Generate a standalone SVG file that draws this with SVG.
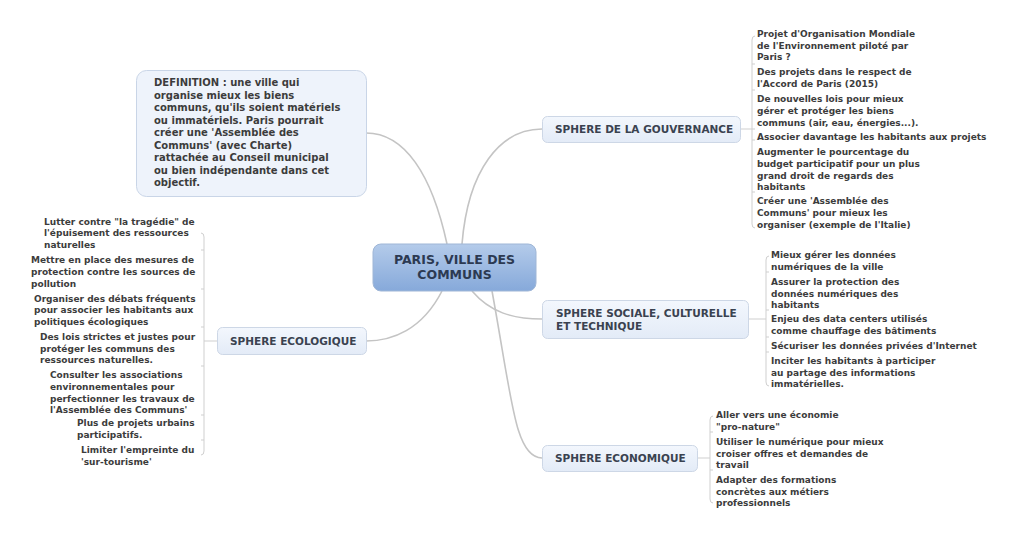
<svg xmlns="http://www.w3.org/2000/svg" width="1024" height="536" viewBox="0 0 1024 536">
<defs>
<linearGradient id="gc" x1="0" y1="0" x2="0" y2="1"><stop offset="0" stop-color="#b4cbea"/><stop offset="1" stop-color="#86a9da"/></linearGradient>
<linearGradient id="gs" x1="0" y1="0" x2="0" y2="1"><stop offset="0" stop-color="#f3f7fd"/><stop offset="1" stop-color="#e3ebf7"/></linearGradient>
<style>
text{font-family:"DejaVu Sans","Verdana",sans-serif;font-weight:bold;fill:#3c3c3c;font-size:9px}
.c{fill:none;stroke:#c4c4c4;stroke-width:1.6}
.b{fill:none;stroke:#cfcfcf;stroke-width:1}
.s{fill:url(#gs);stroke:#cdd7e6;stroke-width:1}
.st{font-size:10.5px;fill:#3a4250}
.ct{font-size:12.5px;fill:#2c3a52;text-anchor:middle}
.dt{font-size:10px}
</style>
</defs>
<rect width="1024" height="536" fill="#ffffff"/>
<g id="connectors">
<path class="c" d="M462,244 C468,170 500,129 542,129"/>
<path class="c" d="M447,244 C432,175 405,133 366,133"/>
<path class="c" d="M472,291 C490,312 512,319 542,319"/>
<path class="c" d="M492,291 C512,400 515,458 542,458"/>
<path class="c" d="M442,291 C422,330 392,341 366,341"/>
<path class="b" d="M740,129 H752 M755,36 Q752,36 752,40 V224 Q752,228 755,228 M752,64 h3 M752,90 h3 M752,129 h3 M752,140 h3 M752,192 h3"/>
<path class="b" d="M748,319 H766 M769,256 Q766,256 766,260 V382 Q766,386 769,386 M766,272 h3 M766,310 h3 M766,337 h3 M766,352 h3"/>
<path class="b" d="M697,458 H710 M713,416 Q710,416 710,420 V499 Q710,503 713,503 M710,432 h3 M710,470 h3"/>
<path class="b" d="M217,341 H204 M201,233 Q204,233 204,237 V451 Q204,455 201,455 M204,250 h-3 M204,289 h-3 M204,327 h-3 M204,366 h-3 M204,415 h-3 M204,440 h-3"/>
</g>
<g id="center">
<rect x="373" y="244" width="163" height="47" rx="8" fill="url(#gc)" stroke="#9fb6d6"/>
<text class="ct" x="454.5" y="264">PARIS, VILLE DES</text>
<text class="ct" x="454.5" y="279">COMMUNS</text>
</g>
<g id="definition">
<rect x="136.5" y="70.5" width="230" height="126" rx="10" fill="#eef3fb" stroke="#c9d5e7"/>
<text class="dt" x="154" y="86">DEFINITION : une ville qui</text>
<text class="dt" x="154" y="98.5">organise mieux les biens</text>
<text class="dt" x="154" y="111">communs, qu'ils soient matériels</text>
<text class="dt" x="154" y="123.5">ou immatériels. Paris pourrait</text>
<text class="dt" x="154" y="136">créer une 'Assemblée des</text>
<text class="dt" x="154" y="148.5">Communs' (avec Charte)</text>
<text class="dt" x="154" y="161">rattachée au Conseil municipal</text>
<text class="dt" x="154" y="173.5">ou bien indépendante dans cet</text>
<text class="dt" x="154" y="186">objectif.</text>
</g>
<g id="gouvernance">
<rect class="s" x="542.5" y="116.5" width="198" height="26" rx="5"/>
<text class="st" x="555" y="133">SPHERE DE LA GOUVERNANCE</text>
</g>
<g id="gouvernance-items">
<text x="757" y="36.5">Projet d'Organisation Mondiale</text>
<text x="757" y="48.5">de l'Environnement piloté par</text>
<text x="757" y="60">Paris ?</text>
<text x="757" y="74.5">Des projets dans le respect de</text>
<text x="757" y="86.5">l'Accord de Paris (2015)</text>
<text x="757" y="101.5">De nouvelles lois pour mieux</text>
<text x="757" y="113.5">gérer et protéger les biens</text>
<text x="757" y="125.5">communs (air, eau, énergies...).</text>
<text x="757" y="139.5">Associer davantage les habitants aux projets</text>
<text x="757" y="154.5">Augmenter le pourcentage du</text>
<text x="757" y="166.5">budget participatif pour un plus</text>
<text x="757" y="178.5">grand droit de regards des</text>
<text x="757" y="189.5">habitants</text>
<text x="757" y="203.5">Créer une 'Assemblée des</text>
<text x="757" y="215.5">Communs' pour mieux les</text>
<text x="757" y="227.5">organiser (exemple de l'Italie)</text>
</g>
<g id="sociale">
<rect class="s" x="542.5" y="300.5" width="206" height="38" rx="5"/>
<text class="st" x="556" y="317">SPHERE SOCIALE, CULTURELLE</text>
<text class="st" x="556" y="330">ET TECHNIQUE</text>
</g>
<g id="sociale-items">
<text x="771" y="257.5">Mieux gérer les données</text>
<text x="771" y="269.5">numériques de la ville</text>
<text x="771" y="284.5">Assurer la protection des</text>
<text x="771" y="296.5">données numériques des</text>
<text x="771" y="307.5">habitants</text>
<text x="771" y="321.5">Enjeu des data centers utilisés</text>
<text x="771" y="333.5">comme chauffage des bâtiments</text>
<text x="771" y="348.5">Sécuriser les données privées d'Internet</text>
<text x="771" y="363.5">Inciter les habitants à participer</text>
<text x="771" y="375.5">au partage des informations</text>
<text x="771" y="386.5">immatérielles.</text>
</g>
<g id="economique">
<rect class="s" x="542.5" y="445.5" width="155" height="26" rx="5"/>
<text class="st" x="555" y="462">SPHERE ECONOMIQUE</text>
</g>
<g id="economique-items">
<text x="716" y="417.5">Aller vers une économie</text>
<text x="716" y="429.5">"pro-nature"</text>
<text x="716" y="444.5">Utiliser le numérique pour mieux</text>
<text x="716" y="456.5">croiser offres et demandes de</text>
<text x="716" y="467.5">travail</text>
<text x="716" y="482.5">Adapter des formations</text>
<text x="716" y="494.5">concrètes aux métiers</text>
<text x="716" y="505.5">professionnels</text>
</g>
<g id="ecologique">
<rect class="s" x="217.5" y="327.5" width="149" height="27" rx="5"/>
<text class="st" x="230" y="345">SPHERE ECOLOGIQUE</text>
</g>
<g id="ecologique-items">
<text x="44" y="224.5">Lutter contre "la tragédie" de</text>
<text x="44" y="235.5">l'épuisement des ressources</text>
<text x="44" y="247.5">naturelles</text>
<text x="31" y="262.5">Mettre en place des mesures de</text>
<text x="31" y="274.5">protection contre les sources de</text>
<text x="31" y="286.5">pollution</text>
<text x="34" y="301.5">Organiser des débats fréquents</text>
<text x="34" y="312.5">pour associer les habitants aux</text>
<text x="34" y="324.5">politiques écologiques</text>
<text x="40" y="339.5">Des lois strictes et justes pour</text>
<text x="40" y="351.5">protéger les communs des</text>
<text x="40" y="362.5">ressources naturelles.</text>
<text x="50" y="377.5">Consulter les associations</text>
<text x="50" y="389.5">environnementales pour</text>
<text x="50" y="401.5">perfectionner les travaux de</text>
<text x="50" y="412.5">l'Assemblée des Communs'</text>
<text x="77" y="425.5">Plus de projets urbains</text>
<text x="77" y="437.5">participatifs.</text>
<text x="81" y="452.5">Limiter l'empreinte du</text>
<text x="81" y="464.5">'sur-tourisme'</text>
</g>
</svg>
